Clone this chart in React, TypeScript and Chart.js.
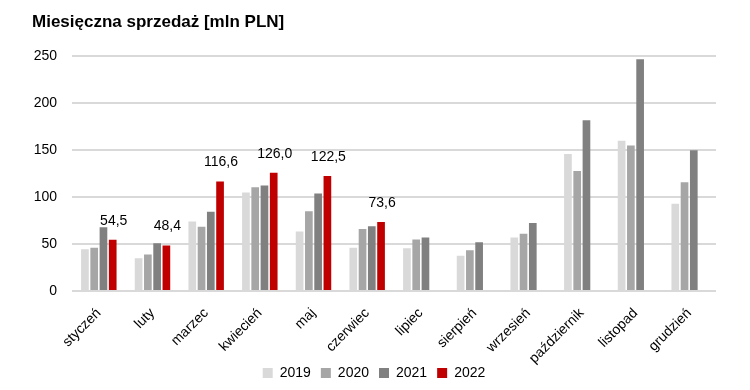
import React, { useEffect, useRef } from "react";
import { Chart, registerables } from "chart.js";

Chart.register(...registerables);

const TITLE = "Miesięczna sprzedaż [mln PLN]";
const MONTHS = [
  "styczeń", "luty", "marzec", "kwiecień", "maj", "czerwiec",
  "lipiec", "sierpień", "wrzesień", "październik", "listopad", "grudzień",
];
const SERIES_LABELS = ["2019", "2020", "2021", "2022"];
const SERIES_COLORS = ["#D9D9D9", "#A6A6A6", "#808080", "#C00000"];
const V2019 = [44.5, 35, 74, 105, 63.5, 46, 45.5, 37.5, 57, 146, 160, 93];
const V2020 = [46, 39, 68.5, 110.5, 85, 66, 55, 43.5, 61, 128, 155, 116];
const V2021 = [68, 51, 84.5, 112.5, 104, 69, 57, 52, 72.5, 182, 247, 150];
const V2022 = [54.5, 48.4, 116.6, 126.0, 122.5, 73.6, null, null, null, null, null, null];
const Y_TICKS = [0, 50, 100, 150, 200, 250];

const FONT = "'Liberation Sans', Arial, sans-serif";

const labelPlugin = {
  id: "valueLabels",
  afterDatasetsDraw(chart: any) {
    const ctx = chart.ctx;
    const meta = chart.getDatasetMeta(3);
    const data = chart.data.datasets[3].data;
    ctx.save();
    ctx.font = `14px ${FONT}`;
    ctx.fillStyle = "#000000";
    ctx.textAlign = "center";
    ctx.textBaseline = "middle";
    meta.data.forEach((el: any, i: number) => {
      const v = data[i];
      if (v === null || v === undefined) return;
      const txt = v.toFixed(1).replace(".", ",");
      ctx.fillText(txt, el.x + 1, el.y - 19);
    });
    ctx.restore();
  },
};

export default function App() {
  const ref = useRef<HTMLCanvasElement | null>(null);
  useEffect(() => {
    if (!ref.current) return;
    const all = [V2019, V2020, V2021, V2022];
    const chart = new Chart(ref.current, {
      type: "bar",
      data: {
        labels: MONTHS,
        datasets: all.map((d, i) => ({
          label: SERIES_LABELS[i],
          data: d,
          backgroundColor: SERIES_COLORS[i],
          borderWidth: 0,
          categoryPercentage: 0.69,
          barPercentage: 0.83,
        })),
      },
      options: {
        animation: false,
        responsive: false,
        maintainAspectRatio: false,
        layout: { padding: { left: 32, right: 34, top: 8, bottom: 0 } },
        plugins: {
          title: {
            display: true,
            text: TITLE,
            align: "start",
            color: "#000000",
            font: { family: FONT, size: 17, weight: "bold" },
            padding: { top: 4, bottom: 24 },
          },
          legend: {
            position: "bottom",
            labels: {
              boxWidth: 10,
              boxHeight: 10,
              padding: 10,
              color: "#000000",
              font: { family: FONT, size: 14 },
            },
          },
          tooltip: { enabled: false },
        },
        scales: {
          x: {
            afterFit: (s: any) => {
              s.height = 65;
              s._computeLabelArea = () => undefined;
            },
            grid: { display: false },
            border: { display: false },
            ticks: {
              maxRotation: 45,
              minRotation: 45,
              color: "#000000",
              font: { family: FONT, size: 14 },
              padding: 6,
            },
          },
          y: {
            min: 0,
            max: 250,
            afterFit: (s: any) => { s.width = 40; },
            afterBuildTicks: (s: any) => { s.ticks = Y_TICKS.map((v) => ({ value: v })); },
            grid: { color: "#D9D9D9", lineWidth: 2, drawTicks: false },
            border: { display: false },
            ticks: {
              color: "#000000",
              padding: 15,
              font: { family: FONT, size: 14 },
            },
          },
        },
      },
      plugins: [labelPlugin],
    });
    return () => chart.destroy();
  }, []);
  return (
    <div style={{ position: "fixed", left: 0, top: 0, width: 750, height: 390, background: "#fff" }}>
      <canvas ref={ref} width={750} height={390} style={{ width: 750, height: 390 }} />
    </div>
  );
}
